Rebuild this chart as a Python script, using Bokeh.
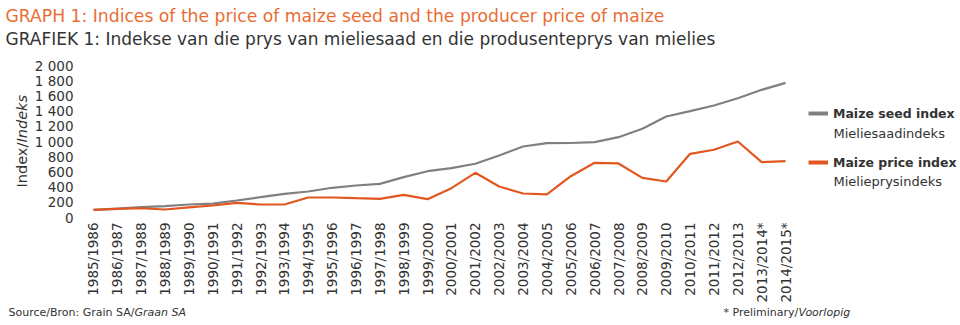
import math
from bokeh.plotting import figure
from bokeh.layouts import column, row
from bokeh.models import Label, Legend, LegendItem, Range1d, FactorRange
from bokeh.embed import file_html
from bokeh.resources import INLINE

# ---- data ----
seasons = ["1985/1986", "1986/1987", "1987/1988", "1988/1989", "1989/1990",
           "1990/1991", "1991/1992", "1992/1993", "1993/1994", "1994/1995",
           "1995/1996", "1996/1997", "1997/1998", "1998/1999", "1999/2000",
           "2000/2001", "2001/2002", "2002/2003", "2003/2004", "2004/2005",
           "2005/2006", "2006/2007", "2007/2008", "2008/2009", "2009/2010",
           "2010/2011", "2011/2012", "2012/2013", "2013/2014*", "2014/2015*"]
seed_index = [100, 118, 136, 150, 171, 182, 224, 267, 311, 342,
              391, 421, 443, 531, 609, 649, 707, 816, 934, 978,
              980, 991, 1057, 1167, 1329, 1399, 1474, 1570, 1680, 1772]
price_index = [100, 114, 122, 105, 132, 158, 193, 171, 171, 263,
               263, 254, 246, 298, 241, 386, 588, 408, 316, 303,
               543, 720, 711, 522, 474, 838, 891, 1000, 728, 741]
y_ticks = [0, 200, 400, 600, 800, 1000, 1200, 1400, 1600, 1800, 2000]
y_tick_labels = ["0", "200", "400", "600", "800", "1 000", "1 200",
                 "1 400", "1 600", "1 800", "2 000"]

FONT = "DejaVu Sans"
GREY = "#808080"
ORANGE = "#e2571f"
TITLE_ORANGE = "#e96d33"
TEXT = "#333333"

# page layout: canvas pixel positions of the main plotting frame
FRAME_TOP, FRAME_BOTTOM = 65, 217


def blank(w, h, x0, x1, y0, y1):
    """A plain panel whose data units are page pixels (y downwards)."""
    f = figure(width=w, height=h, x_range=Range1d(x0, x1),
               y_range=Range1d(y1, y0),
               x_axis_type=None, y_axis_type=None, output_backend="svg",
               toolbar_location=None, min_border=0)
    f.outline_line_color = None
    f.xgrid.visible = False
    f.ygrid.visible = False
    return f


def lab(f, text, x, y, size, color=TEXT, style="normal", angle=0.0,
        align="left", baseline="middle"):
    f.add_layout(Label(x=x, y=y, text=text, text_font=FONT,
                       text_font_size=size, text_font_style=style,
                       text_color=color, angle=angle,
                       text_align=align, text_baseline=baseline))


# ---- main chart ----
p = figure(width=767, height=255,
           x_range=FactorRange(factors=seasons), y_range=Range1d(0, 2000),
           output_backend="svg", toolbar_location=None,
           min_border_left=51, min_border_right=0,
           min_border_top=15, min_border_bottom=88)
p.outline_line_color = None
p.xgrid.visible = False
p.ygrid.visible = False

p.line(seasons, seed_index, line_color=GREY, line_width=2.2)
p.line(seasons, price_index, line_color=ORANGE, line_width=2.2)

for ax in (p.xaxis[0], p.yaxis[0]):
    ax.axis_line_color = None
    ax.major_tick_line_color = None
    ax.minor_tick_line_color = None
    ax.major_tick_in = 0
    ax.major_tick_out = 0
    ax.major_label_text_font = FONT
    ax.major_label_text_color = TEXT

p.yaxis.ticker = y_ticks
p.yaxis.major_label_overrides = {t: l for t, l in zip(y_ticks, y_tick_labels)}
p.yaxis.major_label_text_font_size = "13.5px"
p.yaxis.major_label_standoff = 8

p.xaxis.major_label_orientation = math.pi / 2
p.xaxis.major_label_text_font_size = "13.5px"
p.xaxis.major_label_standoff = 5

# ---- title panel ----
top = blank(960, 50, 0, 960, 0, 50)
lab(top, "GRAPH 1: Indices of the price of maize seed and the producer price of maize",
    5, 15, "17.2px", color=TITLE_ORANGE)
lab(top, "GRAFIEK 1: Indekse van die prys van mieliesaad en die produsenteprys van mielies",
    5, 38, "17px")

# ---- y-axis title panel (frame aligned with the main frame) ----
left = blank(30, 255, 0, 30, FRAME_TOP, FRAME_BOTTOM)
lab(left, "Index/", 21, 187, "14.5px", angle=math.pi / 2)
lab(left, "Indeks", 21, 142, "14.5px", style="italic", angle=math.pi / 2)

# ---- legend panel (frame aligned with the main frame) ----
leg = blank(163, 255, 797, 960, FRAME_TOP, FRAME_BOTTOM)
nan = float("nan")
sw_seed = leg.line(x=[nan], y=[nan], line_color=GREY, line_width=4)
sw_price = leg.line(x=[nan], y=[nan], line_color=ORANGE, line_width=4)
legend = Legend(items=[LegendItem(label="Maize seed index", renderers=[sw_seed]),
                       LegendItem(label="Maize price index", renderers=[sw_price])],
                location=(11, 45), label_text_font=FONT,
                label_text_font_style="bold", label_text_font_size="12.5px",
                label_text_color=TEXT,
                glyph_width=20, glyph_height=20, label_height=20,
                spacing=29, padding=0, margin=0, label_standoff=5,
                border_line_color=None, background_fill_alpha=0)
leg.add_layout(legend)
lab(leg, "Mieliesaadindeks", 833, 133, "13px")
lab(leg, "Mielieprysindeks", 833, 181, "13px")

# ---- footer panel ----
foot = blank(960, 20, 0, 960, 305, 325)
lab(foot, "Source/Bron: Grain SA/", 8, 312, "11px")
lab(foot, "Graan SA", 134, 312, "11px", style="italic")
lab(foot, "* Preliminary/", 723, 312, "11px")
lab(foot, "Voorlopig", 798, 312, "11px", style="italic")

layout = column(top, row(left, p, leg), foot)
open("out.html", "w").write(file_html(layout, INLINE))
